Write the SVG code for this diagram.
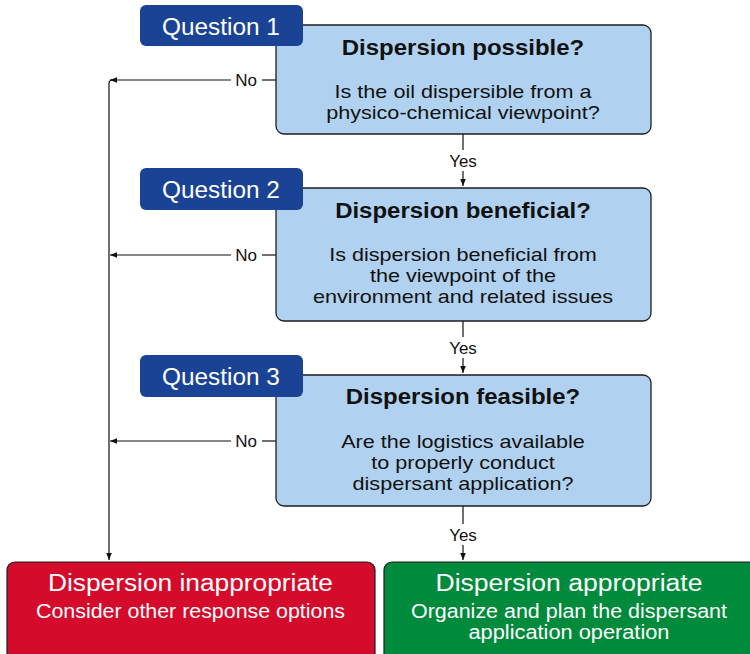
<svg xmlns="http://www.w3.org/2000/svg" width="750" height="654" viewBox="0 0 750 654">
  <defs>
    <marker id="arr" viewBox="0 0 10 10" refX="10" refY="5" markerWidth="7" markerHeight="7" markerUnits="userSpaceOnUse" orient="auto">
      <path d="M0,1 L10,5 L0,9 Z" fill="#111"/>
    </marker>
    <style>
      text { font-family: "Liberation Sans", Arial, sans-serif; }
      .q { fill: #b0d1ef; stroke: #1e1e1e; stroke-width: 1.3; }
      .tab { fill: #1b4395; }
      .tabt { fill: #fff; font-size: 23px; text-anchor: middle; }
      .title { fill: #111; font-size: 22px; font-weight: bold; text-anchor: middle; }
      .body { fill: #111; font-size: 18px; text-anchor: middle; }
      .lbl { fill: #111; font-size: 17px; text-anchor: middle; }
      .ln { stroke: #111; stroke-width: 1.2; fill: none; }
      .rt { fill: #fff; font-size: 23px; text-anchor: middle; }
      .rs { fill: #fff; font-size: 20px; text-anchor: middle; }
    </style>
  </defs>
  <rect width="750" height="654" fill="#fff"/>

  <g id="connectors">
    <!-- Yes links down the centre -->
    <line class="ln" x1="463" y1="134" x2="463" y2="150"/>
    <line class="ln" x1="463" y1="171" x2="463" y2="186" marker-end="url(#arr)"/>
    <line class="ln" x1="463" y1="321" x2="463" y2="337"/>
    <line class="ln" x1="463" y1="358" x2="463" y2="373" marker-end="url(#arr)"/>
    <line class="ln" x1="463" y1="506" x2="463" y2="524"/>
    <line class="ln" x1="463" y1="545" x2="463" y2="560" marker-end="url(#arr)"/>
    <!-- No links to the left rail -->
    <line class="ln" x1="276" y1="80" x2="262" y2="80"/>
    <line class="ln" x1="231" y1="80" x2="110" y2="80" marker-end="url(#arr)"/>
    <line class="ln" x1="276" y1="255" x2="262" y2="255"/>
    <line class="ln" x1="231" y1="255" x2="110" y2="255" marker-end="url(#arr)"/>
    <line class="ln" x1="276" y1="441" x2="262" y2="441"/>
    <line class="ln" x1="231" y1="441" x2="110" y2="441" marker-end="url(#arr)"/>
    <path class="ln" d="M112,80 Q109,80 109,84 L109,560" marker-end="url(#arr)"/>
    <text class="lbl" x="463" y="167">Yes</text>
    <text class="lbl" x="463" y="354">Yes</text>
    <text class="lbl" x="463" y="541">Yes</text>
    <text class="lbl" x="246" y="86">No</text>
    <text class="lbl" x="246" y="261">No</text>
    <text class="lbl" x="246" y="447">No</text>
  </g>

  <g id="q1">
    <rect class="q" x="276" y="25" width="375" height="109" rx="8"/>
    <rect class="tab" x="140" y="5" width="163" height="41" rx="6"/>
    <text class="tabt" x="221" y="35" transform="matrix(1.06,0,0,1,-13.26,0)">Question 1</text>
    <text class="title" x="463" y="55" transform="matrix(1.09,0,0,1,-41.67,0)">Dispersion possible?</text>
    <g transform="matrix(1.2,0,0,1,-92.6,0)">
      <text class="body" x="463" y="98">Is the oil dispersible from a</text>
      <text class="body" x="463" y="119">physico-chemical viewpoint?</text>
    </g>
  </g>

  <g id="q2">
    <rect class="q" x="276" y="188" width="375" height="133" rx="8"/>
    <rect class="tab" x="140" y="168" width="163" height="42" rx="6"/>
    <text class="tabt" x="221" y="198" transform="matrix(1.06,0,0,1,-13.26,0)">Question 2</text>
    <text class="title" x="463" y="218" transform="matrix(1.09,0,0,1,-41.67,0)">Dispersion beneficial?</text>
    <g transform="matrix(1.2,0,0,1,-92.6,0)">
      <text class="body" x="463" y="261">Is dispersion beneficial from</text>
      <text class="body" x="463" y="282">the viewpoint of the</text>
      <text class="body" x="463" y="303">environment and related issues</text>
    </g>
  </g>

  <g id="q3">
    <rect class="q" x="276" y="375" width="375" height="131" rx="8"/>
    <rect class="tab" x="140" y="355" width="163" height="42" rx="6"/>
    <text class="tabt" x="221" y="385" transform="matrix(1.06,0,0,1,-13.26,0)">Question 3</text>
    <text class="title" x="463" y="404" transform="matrix(1.09,0,0,1,-41.67,0)">Dispersion feasible?</text>
    <g transform="matrix(1.2,0,0,1,-92.6,0)">
      <text class="body" x="463" y="448">Are the logistics available</text>
      <text class="body" x="463" y="469">to properly conduct</text>
      <text class="body" x="463" y="490">dispersant application?</text>
    </g>
  </g>

  <g id="inappropriate">
    <rect x="7" y="562" width="368" height="110" rx="8" fill="#d50b2b" stroke="#1e1e1e" stroke-width="1.2"/>
    <text class="rt" x="190.5" y="591" textLength="285" lengthAdjust="spacingAndGlyphs">Dispersion inappropriate</text>
    <text class="rs" x="190.5" y="618" textLength="309" lengthAdjust="spacingAndGlyphs">Consider other response options</text>
  </g>

  <g id="appropriate">
    <rect x="384" y="562" width="380" height="110" rx="8" fill="#008a3b" stroke="#1e1e1e" stroke-width="1.2"/>
    <text class="rt" x="569" y="591" textLength="267" lengthAdjust="spacingAndGlyphs">Dispersion appropriate</text>
    <text class="rs" x="569" y="618" textLength="316" lengthAdjust="spacingAndGlyphs">Organize and plan the dispersant</text>
    <text class="rs" x="569" y="639" textLength="201" lengthAdjust="spacingAndGlyphs">application operation</text>
  </g>
</svg>
